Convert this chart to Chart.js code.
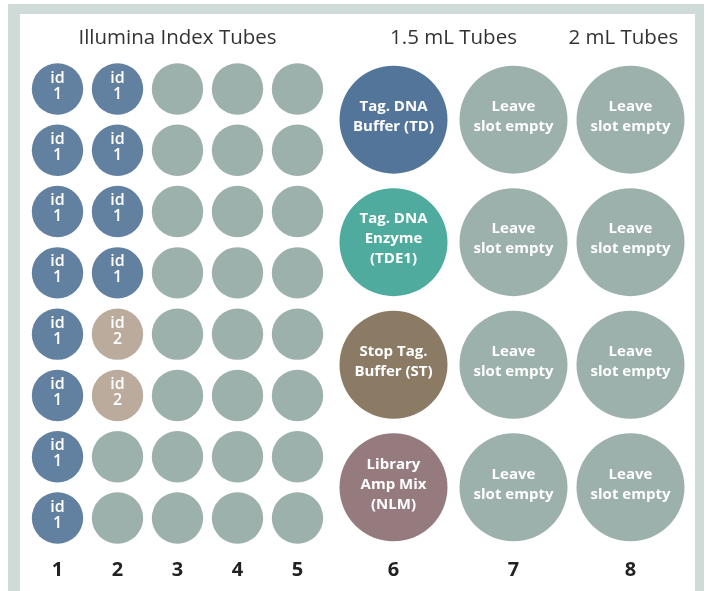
<!DOCTYPE html>
<html>
<head>
<meta charset="utf-8">
<script src="https://cdn.jsdelivr.net/npm/chart.js@4"></script>
<style>
  html, body { margin: 0; padding: 0; background: #fff; }
  #frame { position: absolute; left: 8px; top: 4px; width: 696px; height: 600px; background: #cfdbd8; }
  #panel { position: absolute; left: 20px; top: 14px; width: 675px; height: 590px; background: #fff; }
  #tubeChart { position: absolute; left: 0; top: 0; }
</style>
</head>
<body>
<div id="frame"></div>
<div id="panel"></div>
<canvas id="tubeChart" width="709" height="591"></canvas>
<script>
// column numbers printed under the rack and where each column sits
var columnLabels = ['1', '2', '3', '4', '5', '6', '7', '8'];
var columnPos = [1, 2, 3, 4, 5, 6.6, 8.6, 10.55];

// Illumina index tubes, 8 rows x 5 columns ('' = empty slot)
var indexRows = [1, 2, 3, 4, 5, 6, 7, 8];
var indexCol1 = ['1', '1', '1', '1', '1', '1', '1', '1'];
var indexCol2 = ['1', '1', '1', '1', '2', '2', '', ''];
var indexCol3 = ['', '', '', '', '', '', '', ''];
var indexCol4 = ['', '', '', '', '', '', '', ''];
var indexCol5 = ['', '', '', '', '', '', '', ''];

// big tubes sit between two index rows
var bigRows = [1.5, 3.5, 5.5, 7.5];
var reagents = ['Tag. DNA\nBuffer (TD)', 'Tag. DNA\nEnzyme\n(TDE1)', 'Stop Tag.\nBuffer (ST)', 'Library\nAmp Mix\n(NLM)'];
var col7Tubes = ['Leave\nslot empty', 'Leave\nslot empty', 'Leave\nslot empty', 'Leave\nslot empty'];
var col8Tubes = ['Leave\nslot empty', 'Leave\nslot empty', 'Leave\nslot empty', 'Leave\nslot empty'];

var headers = ['Illumina Index Tubes', '1.5 mL Tubes', '2 mL Tubes'];
var headerPos = [3, 7.6, 10.43];

var emptyColor = '#9cb0ac';
var idColors = { '1': '#62809f', '2': '#baab9c', '': emptyColor };
var reagentColors = ['#53759a', '#4eab9e', '#8b7a64', '#957a7e'];

function indexDataset() {
  var cols = [indexCol1, indexCol2, indexCol3, indexCol4, indexCol5];
  var pts = [], colors = [], texts = [];
  cols.forEach(function (col, c) {
    col.forEach(function (id, r) {
      pts.push({ x: columnPos[c], y: indexRows[r] });
      colors.push(idColors[id]);
      texts.push(id ? 'id\n' + id : '');
    });
  });
  return { label: headers[0], data: pts, backgroundColor: colors, texts: texts,
           radius: 25.7, small: true, borderWidth: 0, clip: false };
}

function bigDataset(label, colIndex, names, colors) {
  return {
    label: label,
    data: bigRows.map(function (y) { return { x: columnPos[colIndex], y: y }; }),
    backgroundColor: colors,
    texts: names,
    radius: 54,
    borderWidth: 0,
    clip: false
  };
}

var tubeLabels = {
  id: 'tubeLabels',
  afterDatasetsDraw: function (chart) {
    var ctx = chart.ctx;
    ctx.save();
    ctx.fillStyle = '#fff';
    ctx.textAlign = 'center';
    ctx.textBaseline = 'middle';
    chart.data.datasets.forEach(function (ds, i) {
      var meta = chart.getDatasetMeta(i);
      var lh = ds.small ? 16 : 20;
      ctx.font = (ds.small ? '600 16px' : '700 15px') + ' "Open Sans", sans-serif';
      meta.data.forEach(function (el, j) {
        var lines = ds.texts[j] ? ds.texts[j].split('\n') : [];
        var y0 = el.y - (lines.length - 1) * lh / 2 - 3;
        lines.forEach(function (t, k) { ctx.fillText(t, el.x, y0 + k * lh); });
      });
    });
    // column group headers
    var xs = chart.scales.x;
    ctx.fillStyle = '#333';
    ctx.font = '20.5px "Open Sans", sans-serif';
    headers.forEach(function (h, i) {
      ctx.fillText(h, xs.getPixelForValue(headerPos[i]), 38);
    });
    ctx.restore();
  }
};

var ctx = document.getElementById('tubeChart');
var tubeChart = new Chart(ctx, {
  type: 'bubble',
  data: {
    datasets: [
      indexDataset(),
      bigDataset(headers[1], 5, reagents, reagentColors),
      bigDataset(headers[1], 6, col7Tubes, emptyColor),
      bigDataset(headers[2], 7, col8Tubes, emptyColor)
    ]
  },
  options: {
    responsive: false,
    animation: false,
    events: [],
    layout: { autoPadding: false, padding: { left: 27.5, right: 51.5, top: 58.35, bottom: 0 } },
    plugins: { legend: { display: false }, tooltip: { enabled: false } },
    scales: {
      x: {
        type: 'linear',
        min: 0.5,
        max: 11,
        grid: { display: false, drawTicks: false },
        border: { display: false },
        afterBuildTicks: function (scale) {
          scale.ticks = columnPos.map(function (v) { return { value: v }; });
        },
        afterFit: function (scale) { scale.height = 42.35; },
        ticks: {
          autoSkip: false,
          maxRotation: 0,
          padding: 10,
          color: '#222',
          font: { family: '"Open Sans", sans-serif', size: 20, weight: '700' },
          callback: function (v, i) { return columnLabels[i]; }
        }
      },
      y: {
        type: 'linear',
        display: false,
        reverse: true,
        min: 0.5,
        max: 8.5
      }
    }
  },
  plugins: [tubeLabels]
});
</script>
</body>
</html>
